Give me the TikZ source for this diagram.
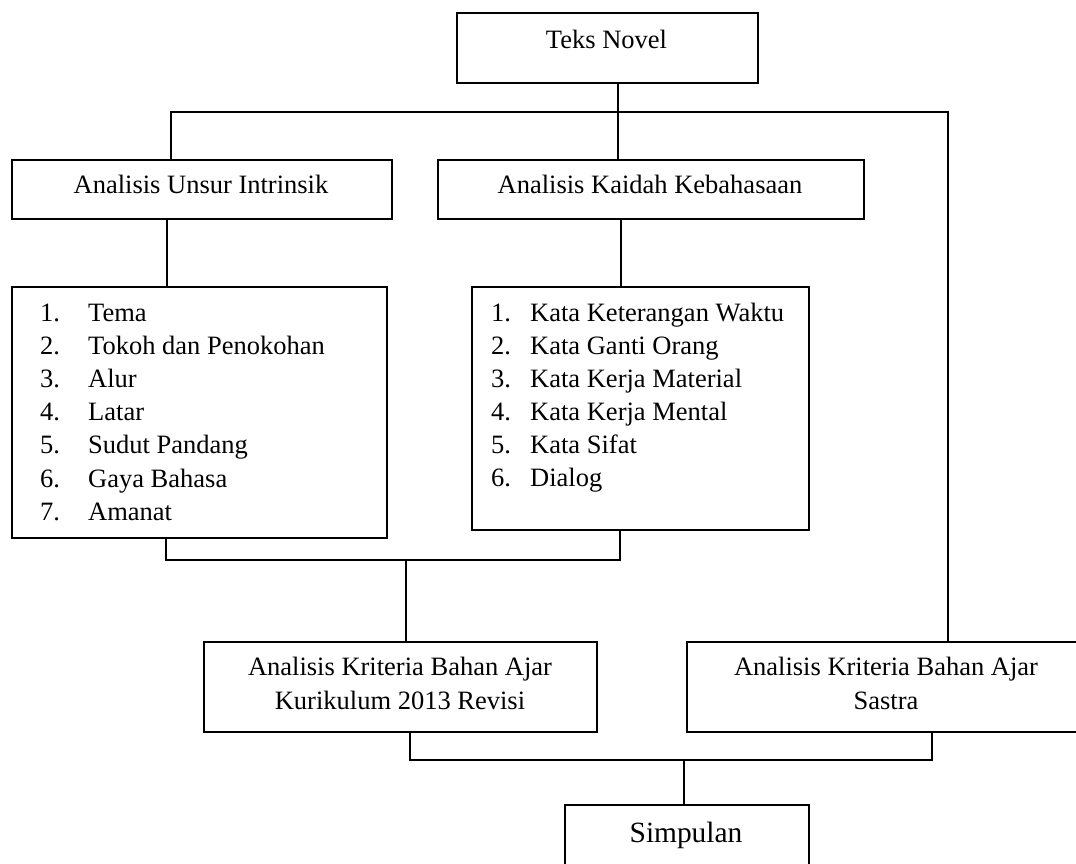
\documentclass[tikz,border=0pt]{standalone}
\usepackage{fontspec}
\setmainfont{Liberation Serif}
\begin{document}
\begin{tikzpicture}[x=1pt,y=-1pt,
  box/.style={draw,line width=1.7pt,rectangle,inner sep=0pt,anchor=north west},
  conn/.style={line width=1.6pt},
  txt/.style={inner sep=0pt,anchor=base,font=\fontsize{26.5}{33}\selectfont},
  itm/.style={inner sep=0pt,anchor=base west,font=\fontsize{26.5}{33}\selectfont}]
\useasboundingbox (0,0) rectangle (1076,863);
% boxes
\node[box,minimum width=301pt,minimum height=70pt] (teks) at (456,12) {};
\node[box,minimum width=380pt,minimum height=59pt] (intr) at (11,159) {};
\node[box,minimum width=426pt,minimum height=59pt] (kaid) at (437,159) {};
\node[box,minimum width=375pt,minimum height=251pt] (lista) at (11,286) {};
\node[box,minimum width=337pt,minimum height=243pt] (listb) at (471,286) {};
\node[box,minimum width=393pt,minimum height=90pt] (kur) at (203,641) {};
\node[box,minimum width=400pt,minimum height=90pt] (sas) at (686,641) {};
\node[box,minimum width=244pt,minimum height=70pt] (sim) at (564,804) {};
% texts
\node[txt] (tteks) at (606.5,48) {Teks Novel};
\node[txt] (tintr) at (201,193) {Analisis Unsur Intrinsik};
\node[txt] (tkaid) at (650,193) {Analisis Kaidah Kebahasaan};
\node[txt] (tkura) at (400,675) {Analisis Kriteria Bahan Ajar};
\node[txt] (tkurb) at (400,709) {Kurikulum 2013 Revisi};
\node[txt] (tsasa) at (886,675) {Analisis Kriteria Bahan Ajar};
\node[txt] (tsasb) at (886,709) {Sastra};
\node[txt,font=\fontsize{29.4}{35}\selectfont] (tsim) at (686,842) {Simpulan};
% list 1
\foreach \n/\t [count=\i from 0] in {1/Tema,2/Tokoh dan Penokohan,3/Alur,4/Latar,5/Sudut Pandang,6/Gaya Bahasa,7/Amanat}{
  \node[itm] (na\n) at (40,321+33.2*\i) {\n.};
  \node[itm] (ia\n) at (88,321+33.2*\i) {\t};
}
% list 2
\foreach \n/\t [count=\i from 0] in {1/Kata Keterangan Waktu,2/Kata Ganti Orang,3/Kata Kerja Material,4/Kata Kerja Mental,5/Kata Sifat,6/Dialog}{
  \node[itm] (nb\n) at (491,321+33*\i) {\n.};
  \node[itm] (ib\n) at (530,321+33*\i) {\t};
}
% junction coordinates
\coordinate (ja) at (171,112);
\coordinate (jb) at (948,112);
\coordinate (jt) at (618,112);
\coordinate (ma) at (166,560);
\coordinate (mb) at (620,560);
\coordinate (mc) at (406,560);
\coordinate (ba) at (410,760);
\coordinate (bb) at (932,760);
\coordinate (bc) at (684,760);
\coordinate (ci) at (167,0);
\coordinate (ck) at (621,0);
% connectors
\draw[conn] (teks.south -| jt) -- (kaid.north -| jt);
\draw[conn] (intr.north -| ja) -- (ja) -- (jb) -- (sas.north -| jb);
\draw[conn] (intr.south -| ci) -- (lista.north -| ci);
\draw[conn] (kaid.south -| ck) -- (listb.north -| ck);
\draw[conn] (lista.south -| ma) -- (ma) -- (mb) -- (listb.south -| mb);
\draw[conn] (mc) -- (kur.north -| mc);
\draw[conn] (kur.south -| ba) -- (ba) -- (bb) -- (sas.south -| bb);
\draw[conn] (bc) -- (sim.north -| bc);
\end{tikzpicture}
\end{document}
